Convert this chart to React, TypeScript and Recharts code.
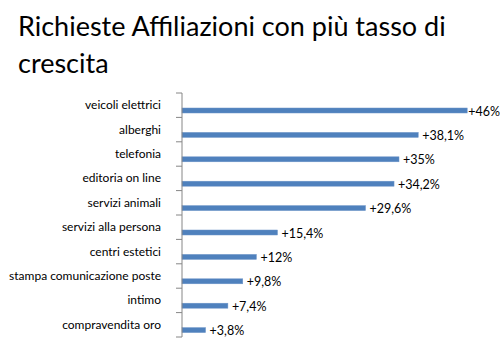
import React from 'react';
import { BarChart, Bar, XAxis, YAxis, LabelList } from 'recharts';

const categories = [
  'veicoli elettrici',
  'alberghi',
  'telefonia',
  'editoria on line',
  'servizi animali',
  'servizi alla persona',
  'centri estetici',
  'stampa comunicazione poste',
  'intimo',
  'compravendita oro',
];
const growth = [46, 38.1, 35, 34.2, 29.6, 15.4, 12, 9.8, 7.4, 3.8];

const chartData = categories.map((name, i) => ({ name, value: growth[i] }));

const W = 500;
const H = 346;
const TOP = 93;
const BOTTOM = 9;
const AXIS_W = 182;
const BAND = (H - TOP - BOTTOM) / categories.length;
const BAR_SHIFT = 5;
const FONT = 'Lato, "Open Sans", sans-serif';

const fmt = (v: number) => `+${String(v).replace('.', ',')}%`;

const CategoryTick = (props: any) => {
  const { x, y, payload, index } = props;
  const ax = AXIS_W;
  return (
    <g>
      <text x={x - 13} y={y} dy={4} textAnchor="end" fontSize={12} fill="#000" fontFamily={FONT}>
        {payload.value}
      </text>
      <line x1={ax - 6} x2={ax} y1={y + BAND / 2} y2={y + BAND / 2} stroke="#868686" />
      {index === 0 && <line x1={ax - 6} x2={ax} y1={y - BAND / 2} y2={y - BAND / 2} stroke="#868686" />}
    </g>
  );
};

const ShiftedBar = (props: any) => {
  const { x, y, width, height } = props;
  return <rect x={x} y={y + BAR_SHIFT} width={width} height={height} fill="#4F81BD" stroke="#6E95C8" strokeWidth={0.5} />;
};

const ValueLabel = (props: any) => {
  const { x, y, width, height, value, index } = props;
  const gap = index === 0 ? 1 : 4;
  return (
    <text x={x + width + gap} y={y + height / 2 + BAR_SHIFT + 5} fontSize={12.5} fill="#000" fontFamily={FONT}>
      {fmt(value)}
    </text>
  );
};

export default function App() {
  return (
    <div style={{ position: 'absolute', left: 0, top: 0, width: W, height: H, background: '#fff' }}>
      <div
        style={{
          position: 'absolute',
          left: 18,
          top: 7,
          fontFamily: FONT,
          fontSize: 27,
          lineHeight: '37px',
          color: '#000',
          whiteSpace: 'nowrap',
        }}
      >
        Richieste Affiliazioni con più tasso di
        <br />
        crescita
      </div>
      <BarChart
        width={W}
        height={H}
        data={chartData}
        layout="vertical"
        barCategoryGap={0}
        margin={{ top: TOP, right: 8, bottom: BOTTOM, left: 0 }}
      >
        <XAxis type="number" domain={[0, 50]} hide />
        <YAxis
          type="category"
          dataKey="name"
          width={AXIS_W}
          axisLine={{ stroke: '#868686' }}
          tickLine={false}
          tick={<CategoryTick />}
          interval={0}
        />
        <Bar dataKey="value" barSize={5} isAnimationActive={false} shape={<ShiftedBar />}>
          <LabelList dataKey="value" content={<ValueLabel />} />
        </Bar>
      </BarChart>
    </div>
  );
}
